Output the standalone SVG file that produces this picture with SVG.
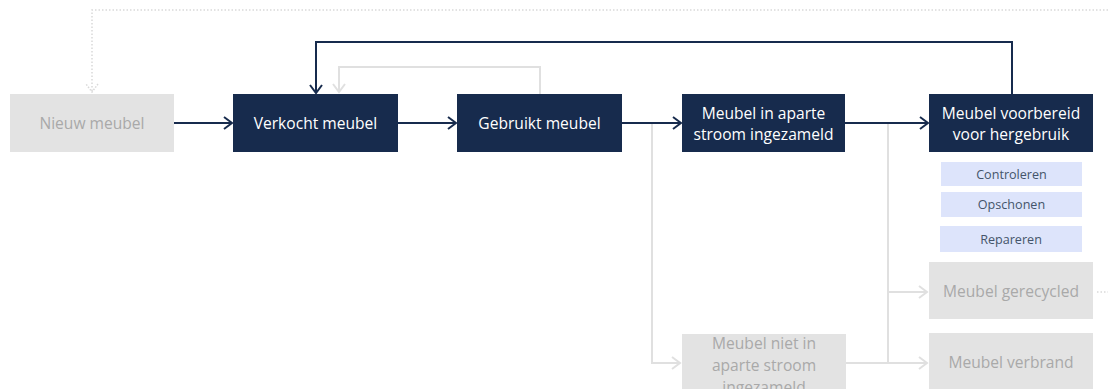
<svg xmlns="http://www.w3.org/2000/svg" width="1108" height="389" viewBox="0 0 1108 389">
<style>
.dark{fill:#172b4d}
.grey{fill:#e3e3e3}
.sub{fill:#dde4fb}
.t{font-family:"Open Sans","Noto Sans","DejaVu Sans",sans-serif;font-size:15.6px;text-anchor:middle;dominant-baseline:central}
.tw{fill:#ffffff}
.tg{fill:#a9a9a9}
.ts{font-size:12.6px;fill:#44546a}
.cd{fill:none;stroke:#172b4d;stroke-width:2}
.cg{fill:none;stroke:#e0e0e0;stroke-width:2}
.cdot{fill:none;stroke:#d9d9d9;stroke-width:1.5;stroke-dasharray:1.5 2}
</style>
<defs>
<marker id="ad" markerUnits="userSpaceOnUse" markerWidth="12" markerHeight="14" refX="10" refY="7" orient="auto"><path d="M2,1 L10,7 L2,13" fill="none" stroke="#172b4d" stroke-width="2"/></marker>
<marker id="ag" markerUnits="userSpaceOnUse" markerWidth="12" markerHeight="14" refX="10" refY="7" orient="auto"><path d="M2,1 L10,7 L2,13" fill="none" stroke="#e0e0e0" stroke-width="2"/></marker>
<marker id="adot" markerUnits="userSpaceOnUse" markerWidth="12" markerHeight="14" refX="10" refY="7" orient="auto"><path d="M2,1 L10,7 L2,13" fill="none" stroke="#d9d9d9" stroke-width="1.5" stroke-dasharray="1.5 1.5"/></marker>
</defs>
<g id="connectors">
<path class="cdot" d="M1108,10 H92 V92" marker-end="url(#adot)"/>
<path class="cdot" d="M1097,292 H1108"/>
<path class="cg" d="M540,94 V67 H339 V92" marker-end="url(#ag)"/>
<path class="cg" d="M652,123 V363 H680" marker-end="url(#ag)"/>
<path class="cg" d="M888,123 V363"/>
<path class="cg" d="M846,363 H927" marker-end="url(#ag)"/>
<path class="cg" d="M888,292 H927" marker-end="url(#ag)"/>
<path class="cd" d="M174,123 H232" marker-end="url(#ad)"/>
<path class="cd" d="M398,123 H456" marker-end="url(#ad)"/>
<path class="cd" d="M622,123 H681" marker-end="url(#ad)"/>
<path class="cd" d="M845,123 H928" marker-end="url(#ad)"/>
<path class="cd" d="M1012,94 V42 H316 V93" marker-end="url(#ad)"/>
</g>
<g id="nieuw"><rect class="grey" x="10" y="94" width="164" height="58"/><text class="t tg" x="92" y="123">Nieuw meubel</text></g>
<g id="verkocht"><rect class="dark" x="233" y="94" width="165" height="58"/><text class="t tw" x="315.5" y="123">Verkocht meubel</text></g>
<g id="gebruikt"><rect class="dark" x="457" y="94" width="165" height="58"/><text class="t tw" x="539.5" y="123">Gebruikt meubel</text></g>
<g id="apart"><rect class="dark" x="682" y="94" width="163" height="58"/><text class="t tw" x="763.5" y="113">Meubel in aparte</text><text class="t tw" x="763.5" y="134">stroom ingezameld</text></g>
<g id="voorbereid"><rect class="dark" x="929" y="94" width="164" height="58"/><text class="t tw" x="1011" y="113">Meubel voorbereid</text><text class="t tw" x="1011" y="134">voor hergebruik</text></g>
<g id="controleren"><rect class="sub" x="941" y="162" width="141" height="24"/><text class="t ts" x="1011.5" y="174">Controleren</text></g>
<g id="opschonen"><rect class="sub" x="941" y="192" width="141" height="25"/><text class="t ts" x="1011.5" y="204.5">Opschonen</text></g>
<g id="repareren"><rect class="sub" x="940" y="226" width="142" height="26"/><text class="t ts" x="1011" y="239">Repareren</text></g>
<g id="gerecycled"><rect class="grey" x="929" y="262" width="164" height="57"/><text class="t tg" x="1011" y="291">Meubel gerecycled</text></g>
<g id="verbrand"><rect class="grey" x="929" y="333" width="164" height="58"/><text class="t tg" x="1011" y="362">Meubel verbrand</text></g>
<g id="niet"><rect class="grey" x="682" y="334" width="164" height="58"/><text class="t tg" x="764" y="343">Meubel niet in</text><text class="t tg" x="764" y="365">aparte stroom</text><text class="t tg" x="764" y="387">ingezameld</text></g>
</svg>
